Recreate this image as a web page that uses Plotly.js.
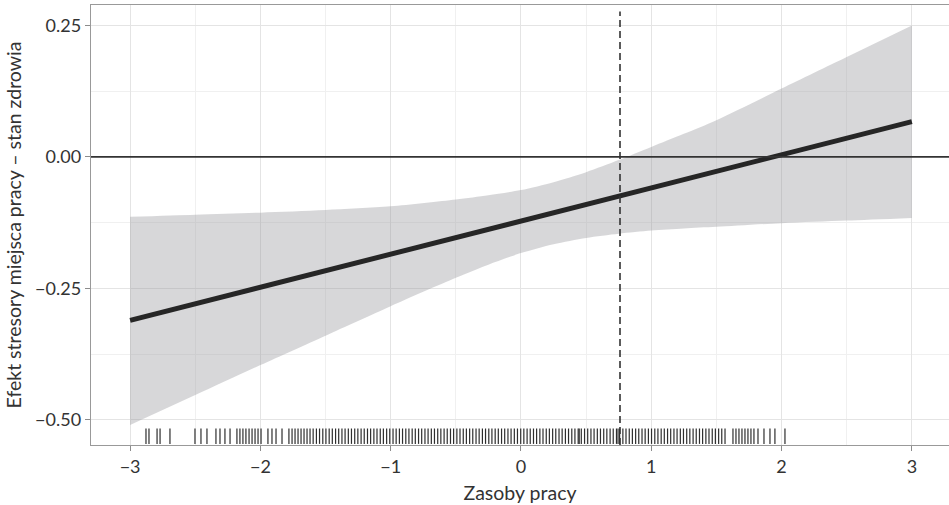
<!DOCTYPE html>
<html>
<head>
<meta charset="utf-8">
<script src="https://cdn.plot.ly/plotly-3.0.1.min.js"></script>
<style>
  html, body { margin: 0; padding: 0; background: #ffffff; }
  #chart { width: 949px; height: 505px; }
</style>
</head>
<body>
<div id="chart"></div>
<script>
// Predicted effect of workplace stressors on health across job resources
const lineX = [-3, 3];
const lineY = [-0.311, 0.067];

// 95% confidence band
const bandX     = [-3, -2.5, -2, -1.5, -1, -0.5, -0.25, 0, 0.25, 0.5, 0.75, 1, 1.25, 1.5, 2, 2.5, 3];
const bandUpper = [-0.114, -0.110, -0.106, -0.101, -0.094, -0.081, -0.073, -0.063, -0.048, -0.029, -0.006, 0.019, 0.044, 0.070, 0.130, 0.190, 0.250];
const bandLower = [-0.510, -0.453, -0.396, -0.340, -0.284, -0.230, -0.205, -0.183, -0.166, -0.154, -0.146, -0.140, -0.136, -0.133, -0.126, -0.121, -0.116];

// reference value of job resources (dashed marker)
const refX = 0.76;

// observed job-resource scores (rug)
const rugX = [
  -2.878, -2.855, -2.793, -2.770, -2.694, -2.502, -2.456, -2.410, -2.341, -2.310, -2.272, -2.233,
  -2.180, -2.157, -2.134, -2.111, -2.087, -2.064, -2.041, -2.018, -1.995, -1.942, -1.911, -1.880,
  -1.834, -1.781, -1.757, -1.734, -1.711, -1.688, -1.665, -1.642,
  -1.619, -1.595, -1.570, -1.546, -1.521, -1.497, -1.472, -1.448, -1.423, -1.399, -1.374, -1.350,
  -1.325, -1.301, -1.276, -1.252, -1.227, -1.203, -1.178, -1.154, -1.129, -1.105, -1.080, -1.056,
  -1.031, -1.007, -0.982, -0.958, -0.933, -0.909, -0.884, -0.860, -0.835, -0.811, -0.786, -0.762,
  -0.737, -0.713, -0.688, -0.664, -0.639, -0.615, -0.590, -0.566, -0.541, -0.517, -0.492, -0.468,
  -0.443, -0.419, -0.394, -0.370, -0.345, -0.321, -0.296, -0.272, -0.247, -0.223, -0.198, -0.174,
  -0.149, -0.125, -0.100, -0.076, -0.051, -0.027, -0.002, 0.022, 0.047, 0.071, 0.096, 0.120,
  0.145, 0.169, 0.194, 0.218, 0.243, 0.267, 0.292, 0.316, 0.341, 0.365, 0.390, 0.414,
  0.439, 0.447, 0.463, 0.488, 0.512, 0.537, 0.561, 0.586, 0.610, 0.635, 0.659, 0.684,
  0.708, 0.733, 0.745, 0.757, 0.782, 0.806, 0.831, 0.855, 0.880, 0.904, 0.929, 0.953,
  0.978, 1.002, 1.027, 1.051, 1.076, 1.100, 1.125, 1.149, 1.174, 1.198, 1.223, 1.247,
  1.272, 1.296, 1.321, 1.345, 1.370, 1.394, 1.419, 1.443, 1.468, 1.492, 1.517, 1.541, 1.566,
  1.627, 1.650, 1.673, 1.696, 1.719, 1.742, 1.765, 1.788, 1.819, 1.865, 1.911, 1.949, 2.026
];

const xTicks = [-3, -2, -1, 0, 1, 2, 3];
const yTicks = [-0.5, -0.25, 0, 0.25];
const yTickText = ['\u22120.50', '\u22120.25', '0.00', '0.25'];

const xRange = [-3.3, 3.285];
const yRange = [-0.548, 0.289];

// rug sits just above the lower panel edge
const rugLevel = yRange[0] + 0.02 * (yRange[1] - yRange[0]);

const font = 'Lato, "Open Sans", "DejaVu Sans", sans-serif';
const textColor = '#333333';

const traces = [
  // lower bound (invisible), then upper bound filled down to it
  {
    x: bandX, y: bandLower,
    type: 'scatter', mode: 'lines',
    line: { width: 0, shape: 'spline', smoothing: 0.8 },
    hoverinfo: 'skip', showlegend: false
  },
  {
    x: bandX, y: bandUpper,
    type: 'scatter', mode: 'lines',
    fill: 'tonexty',
    fillcolor: 'rgba(150,150,156,0.38)',
    line: { width: 0, shape: 'spline', smoothing: 0.8 },
    hoverinfo: 'skip', showlegend: false
  },
  {
    x: lineX, y: lineY,
    type: 'scatter', mode: 'lines',
    line: { color: '#262626', width: 5 },
    showlegend: false
  },
  {
    x: rugX, y: rugX.map(() => rugLevel),
    type: 'scatter', mode: 'markers',
    marker: { symbol: 'line-ns-open', size: 11, color: '#2e2e2e', line: { color: '#2e2e2e', width: 1.2 } },
    showlegend: false, hoverinfo: 'x'
  }
];

const layout = {
  width: 949, height: 505,
  margin: { l: 91, r: 0, t: 5, b: 60 },
  paper_bgcolor: '#ffffff',
  plot_bgcolor: '#ffffff',
  font: { family: font, size: 18, color: textColor },
  xaxis: {
    range: xRange,
    tickvals: xTicks,
    ticktext: xTicks.map(v => v < 0 ? '\u2212' + Math.abs(v) : String(v)),
    ticks: 'outside', ticklen: 5, tickwidth: 1, tickcolor: '#8c8c8c',
    showgrid: true, gridcolor: '#e4e4e4', gridwidth: 1,
    minor: { dtick: 0.5, tick0: -3.5, showgrid: true, gridcolor: '#f0f0f0', gridwidth: 1 },
    zeroline: false,
    showline: true, linecolor: '#999999', linewidth: 1.3, mirror: true,
    tickfont: { family: font, size: 18, color: textColor },
    title: { text: 'Zasoby pracy', font: { family: font, size: 19.5, color: textColor }, standoff: 10 },
    automargin: false
  },
  yaxis: {
    range: yRange,
    tickvals: yTicks,
    ticktext: yTickText,
    ticks: 'outside', ticklen: 5, tickwidth: 1, tickcolor: '#8c8c8c',
    showgrid: true, gridcolor: '#e4e4e4', gridwidth: 1,
    minor: { tickvals: [-0.375, -0.125, 0.125], showgrid: true, gridcolor: '#f0f0f0', gridwidth: 1 },
    zeroline: false,
    showline: true, linecolor: '#999999', linewidth: 1.3, mirror: false,
    tickfont: { family: font, size: 18, color: textColor },
    title: { text: 'Efekt stresory miejsca pracy \u2013 stan zdrowia', font: { family: font, size: 19.5, color: textColor }, standoff: 8 },
    automargin: false
  },
  shapes: [
    {
      type: 'line', layer: 'above',
      xref: 'paper', x0: 0, x1: 1,
      yref: 'y', y0: 0, y1: 0,
      line: { color: '#333333', width: 1.8 }
    },
    {
      type: 'line', layer: 'above',
      xref: 'x', x0: refX, x1: refX,
      yref: 'paper', y0: 0, y1: 0.985,
      line: { color: '#333333', width: 1.6, dash: '7px,4px' }
    }
  ]
};

Plotly.newPlot('chart', traces, layout, { displayModeBar: false, staticPlot: true });
</script>
</body>
</html>
